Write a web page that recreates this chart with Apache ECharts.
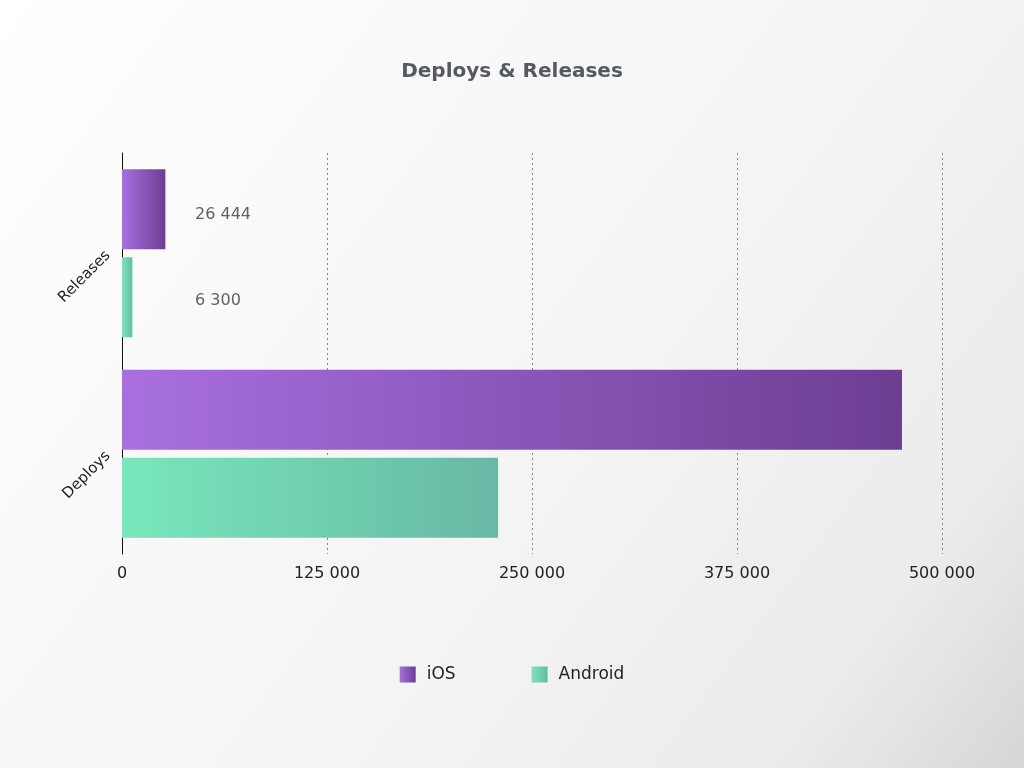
<!DOCTYPE html>
<html><head><meta charset="utf-8">
<script src="https://cdn.jsdelivr.net/npm/echarts@6/dist/echarts.min.js"></script>
<style>html,body{margin:0;padding:0;}#c{width:1024px;height:768px;}</style>
</head><body><div id="c"></div>
<script>
const categories = ['Releases', 'Deploys'];
const iosValues = [26444, 475600];
const androidValues = [6300, 229300];
const xTicks = [0, 125000, 250000, 375000, 500000];
const labelledCategory = 'Releases';

const fmt = v => String(Math.round(v)).replace(/\B(?=(\d{3})+(?!\d))/g, ' ');
const FONT = 'DejaVu Sans';
function grad(a, b) {
  return new echarts.graphic.LinearGradient(0, 0, 1, 0, [{offset: 0, color: a}, {offset: 1, color: b}]);
}
const iosGrad = grad('#a96fe0', '#6c3e92');
const andGrad = grad('#78e7bb', '#68b8a5');
function mk(vals) {
  return vals.map((v, i) => ({
    value: v,
    label: {show: categories[i] === labelledCategory}
  }));
}
const chart = echarts.init(document.getElementById('c'));
chart.setOption({
  backgroundColor: new echarts.graphic.LinearGradient(0, 0, 1, 1, [
    {offset: 0, color: '#ffffff'}, {offset: 0.6, color: '#f3f3f3'}, {offset: 0.85, color: '#ebebeb'}, {offset: 1, color: '#d6d6d6'}
  ]),
  animation: false,
  textStyle: {fontFamily: FONT},
  title: {
    text: 'Deploys & Releases', left: 'center', top: 57,
    textStyle: {fontFamily: FONT, fontSize: 20, fontWeight: 'bold', color: '#555a61'}
  },
  legend: {
    bottom: 80, left: 'center', itemWidth: 16, itemHeight: 16, itemGap: 76,
    icon: 'rect',
    textStyle: {fontFamily: FONT, fontSize: 17, color: '#222', padding: [0, 0, 0, 6]},
    data: ['iOS', 'Android']
  },
  grid: {left: 122, right: 82, top: 153, bottom: 214, containLabel: false},
  xAxis: {
    type: 'value', min: 0, max: 500000, interval: 125000,
    axisLine: {show: false}, axisTick: {show: false},
    axisLabel: {formatter: v => fmt(v), fontFamily: FONT, fontSize: 16, color: '#222', margin: 12},
    splitLine: {show: true, lineStyle: {type: [2, 3], color: '#888', width: 1}}
  },
  yAxis: {
    type: 'category', data: categories, inverse: true,
    axisLine: {show: true, lineStyle: {color: '#111', width: 1}},
    axisTick: {show: false},
    axisLabel: {rotate: 45, fontFamily: FONT, fontSize: 15, color: '#222', margin: 14}
  },
  series: [
    {
      name: 'iOS', type: 'bar', data: mk(iosValues), barWidth: 80, barGap: '10%',
      itemStyle: {color: iosGrad},
      label: {position: [73, '50%'], offset: [0, 6], verticalAlign: 'middle', formatter: p => fmt(p.value), fontFamily: FONT, fontSize: 16, color: '#5f6269'}
    },
    {
      name: 'Android', type: 'bar', data: mk(androidValues), barWidth: 80, barGap: '10%',
      itemStyle: {color: andGrad},
      label: {position: [73, '50%'], offset: [0, 4], verticalAlign: 'middle', formatter: p => fmt(p.value), fontFamily: FONT, fontSize: 16, color: '#5f6269'}
    }
  ]
});
</script></body></html>
